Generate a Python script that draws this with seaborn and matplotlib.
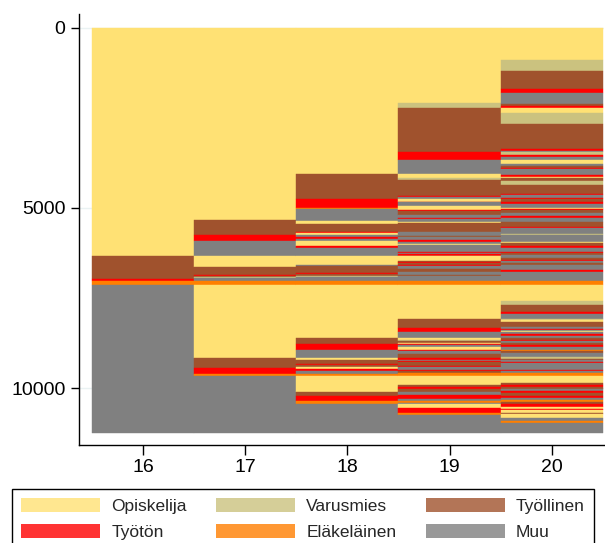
import numpy as np
import matplotlib
matplotlib.use('Agg')
import matplotlib.pyplot as plt
import seaborn as sns
from matplotlib.patches import Patch

# state codes -> legend labels
state_names = {'O': 'Opiskelija', 'V': 'Varusmies', 'T': 'Työllinen',
               'U': 'Työtön', 'E': 'Eläkeläinen', 'M': 'Muu'}
state_colors = {'O': '#FFE174', 'V': '#CBC27F', 'T': '#A0522D',
                'U': '#FF0000', 'E': '#FF7F00', 'M': '#808080'}

ages = [16, 17, 18, 19, 20]

# sequences sorted top to bottom: state of each block and its cumulative end (persons)
age16_states = ['O', 'T', 'U', 'E', 'M']
age16_ends = [6340, 6970, 7020, 7140, 11250]

age17_states = ['O', 'T', 'U', 'M', 'O', 'T', 'U', 'T', 'V', 'M', 'E', 'O', 'T', 'U', 'E', 'M']
age17_ends = [5340, 5760, 5930, 6340, 6640, 6870, 6900, 6920, 6950, 7020, 7140, 9160, 9440, 9610, 9650, 11250]

age18_states = ['O', 'T', 'U', 'E', 'M', 'O', 'T', 'U', 'O', 'M', 'U', 'M', 'O', 'U', 'M',
                'O', 'M', 'T', 'U', 'T', 'V', 'M', 'E',
                'O', 'T', 'U', 'M', 'O', 'T', 'U', 'T', 'O', 'U', 'M', 'E',
                'O', 'T', 'U', 'E', 'M']
age18_ends = [4050, 4760, 4990, 5020, 5360, 5460, 5670, 5700, 5760, 5810, 5850, 5920, 6050, 6120, 6340,
              6570, 6620, 6800, 6820, 6890, 6920, 7020, 7140,
              8610, 8780, 8950, 9170, 9220, 9320, 9350, 9420, 9460, 9530, 9610, 9650,
              10100, 10210, 10360, 10440, 11250]

age19_states = ['O', 'V', 'T', 'U', 'M', 'O', 'V', 'T', 'U', 'M', 'O', 'U', 'M', 'O', 'U', 'T',
                'M', 'U', 'M', 'O', 'T', 'M', 'T', 'M', 'U', 'M', 'O', 'M', 'U', 'M', 'U', 'M',
                'O', 'T', 'U', 'T', 'U', 'M', 'T', 'M', 'T', 'M', 'E',
                'O', 'T', 'U', 'M', 'O', 'V', 'T', 'O', 'U', 'M', 'O', 'U', 'M', 'T', 'U', 'M',
                'U', 'T', 'U', 'M', 'U', 'T', 'E',
                'O', 'T', 'U', 'T', 'M', 'U', 'M', 'E', 'M', 'O', 'U', 'E', 'M']
age19_ends = [2090, 2220, 3460, 3680, 4070, 4180, 4230, 4670, 4700, 4740, 4830, 4850, 4950, 5050, 5080, 5200,
              5280, 5310, 5380, 5410, 5660, 5780, 5810, 5890, 5940, 6010, 6030, 6230, 6260, 6280, 6320, 6340,
              6480, 6510, 6530, 6590, 6620, 6690, 6780, 6850, 6880, 7020, 7140,
              8070, 8340, 8450, 8610, 8660, 8680, 8740, 8770, 8810, 8850, 8950, 8970, 9060, 9170, 9210, 9250,
              9280, 9380, 9400, 9490, 9520, 9580, 9650,
              9920, 9970, 10030, 10110, 10200, 10290, 10360, 10400, 10450, 10560, 10700, 10750, 11250]

age20_states = ['O', 'V', 'T', 'U', 'M', 'T', 'U', 'O', 'V', 'T', 'U', 'M', 'V', 'U', 'M', 'O',
                'M', 'T', 'U', 'M', 'U', 'O', 'T', 'V', 'T', 'U', 'M', 'U', 'T', 'U', 'M', 'O',
                'U', 'T', 'M', 'U', 'M', 'T', 'U', 'M', 'V', 'M', 'O', 'T', 'U', 'M', 'U', 'T',
                'M', 'T', 'U', 'M', 'T', 'M', 'U', 'M', 'E',
                'O', 'V', 'T', 'U', 'M', 'V', 'O', 'T', 'M', 'U', 'M', 'O', 'M', 'U', 'M', 'T',
                'U', 'M', 'T', 'U', 'M', 'E', 'T', 'M', 'V', 'T', 'M', 'U', 'M', 'U', 'M', 'E',
                'O', 'T', 'U', 'T', 'M', 'U', 'T', 'U', 'M', 'E', 'T', 'U', 'O', 'U', 'O', 'T',
                'O', 'M', 'E', 'M']
age20_ends = [900, 1210, 1690, 1820, 2130, 2170, 2220, 2370, 2680, 3370, 3420, 3460, 3520, 3580, 3680, 3770,
              3840, 3900, 3930, 4090, 4130, 4170, 4240, 4370, 4620, 4650, 4730, 4760, 4850, 4880, 4990, 5020,
              5050, 5150, 5230, 5270, 5400, 5530, 5560, 5730, 5760, 5940, 5980, 6060, 6100, 6210, 6260, 6310,
              6390, 6440, 6480, 6530, 6590, 6730, 6770, 7020, 7140,
              7590, 7700, 7900, 7950, 8070, 8100, 8160, 8300, 8350, 8380, 8410, 8430, 8500, 8540, 8600, 8670,
              8700, 8750, 8810, 8850, 8930, 8960, 9020, 9140, 9180, 9220, 9280, 9310, 9490, 9520, 9580, 9650,
              9850, 9920, 9970, 10030, 10080, 10140, 10220, 10260, 10330, 10380, 10440, 10530, 10580, 10610, 10690, 10720,
              10830, 10900, 10970, 11250]

columns = [(16, age16_states, age16_ends), (17, age17_states, age17_ends),
           (18, age18_states, age18_ends), (19, age19_states, age19_ends),
           (20, age20_states, age20_ends)]

sns.set_style('ticks')
plt.rcParams['font.family'] = ['Liberation Sans', 'DejaVu Sans']

fig = plt.figure(figsize=(6.05, 5.43), dpi=100)
ax = fig.add_axes([0.130, 0.180, 0.868, 0.794])

for v in [0, 5000, 10000]:
    ax.axhline(v, color='#EAF2F3', lw=1, zorder=0)

for age, states, ends in columns:
    ends = np.array(ends)
    starts = np.r_[0, ends[:-1]]
    cols = [state_colors[s] for s in states]
    ax.bar(np.full(len(ends), age), ends - starts, bottom=starts, width=1.0,
           color=cols, edgecolor=cols, linewidth=0.3, zorder=2)

ax.set_xlim(15.37, 20.51)
ax.set_ylim(11582, -374)
ax.set_xticks(ages)
ax.set_yticks([0, 5000, 10000])
ax.set_xlabel('')
ax.set_ylabel('')
sns.despine(ax=ax)
for side in ['left', 'bottom']:
    ax.spines[side].set_color('black')
    ax.spines[side].set_linewidth(1)
ax.tick_params(axis='y', length=6, width=1, pad=3.5, labelsize=14, colors='black')
ax.tick_params(axis='x', length=7.2, width=1, pad=3, labelsize=14, colors='black')

order = ['O', 'U', 'V', 'E', 'T', 'M']
handles = [Patch(facecolor=state_colors[s], alpha=0.8, edgecolor='none') for s in order]
labels = [state_names[s] for s in order]
leg = fig.legend(handles, labels, loc='upper left', bbox_to_anchor=(0.0193, -0.3, 0.9625, 0.3989),
                 mode='expand', ncol=3, fontsize=12.5, handlelength=4.55, handleheight=0.81,
                 handletextpad=0.65, labelspacing=0.58, borderpad=0.53, borderaxespad=0,
                 frameon=True, fancybox=False, edgecolor='black', framealpha=1)
leg.get_frame().set_linewidth(1)

fig.savefig('out.png', dpi=100)
